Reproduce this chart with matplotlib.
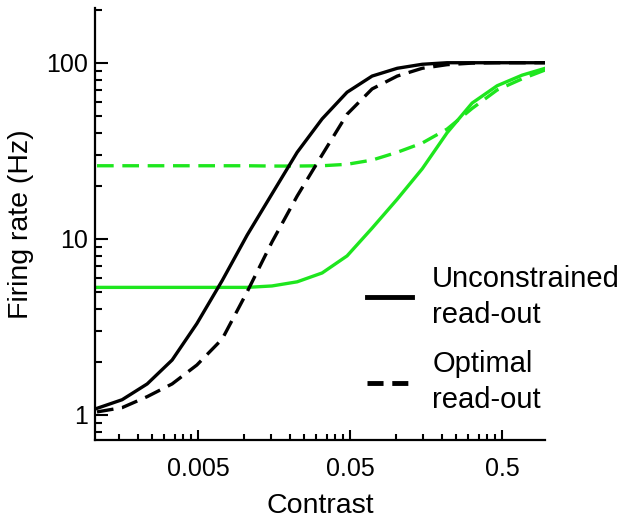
import matplotlib
matplotlib.use("Agg")
import matplotlib.pyplot as plt
from matplotlib.lines import Line2D
from matplotlib.ticker import FixedLocator, NullFormatter

plt.rcParams['font.family'] = ['Liberation Sans', 'DejaVu Sans']

# DATA ---------------------------------------------------------------------------------------------
contrast = [0.00108, 0.00158, 0.00231, 0.00337, 0.0049, 0.0072, 0.0105, 0.0153, 0.0224,
            0.0327, 0.0477, 0.0697, 0.102, 0.149, 0.217, 0.317, 0.463, 0.676, 0.96]

unconstrained_black = [1.09, 1.22, 1.5, 2.05, 3.3, 5.8, 10.5, 18, 31,
                       48, 68, 84, 93, 98, 100, 100, 100, 100, 100]
optimal_black = [1.04, 1.10, 1.27, 1.50, 1.92, 2.7, 5.0, 9.6, 17.5,
                 30, 51, 71, 84, 93, 97.5, 99.5, 100, 100, 100]
unconstrained_green = [5.3, 5.3, 5.3, 5.3, 5.3, 5.3, 5.3, 5.4, 5.7,
                       6.4, 8.0, 11.5, 16.8, 25, 40, 59, 74, 85, 93]
optimal_green = [26, 26, 26, 26, 26, 26, 26, 25.9, 25.9,
                 26, 26.5, 28, 31, 35, 42, 55, 70, 81, 91]

x_ticks = [0.005, 0.05, 0.5]
x_ticklabels = ["0.005", "0.05", "0.5"]
y_ticks = [1, 10, 100]
y_ticklabels = ["1", "10", "100"]
legend_labels = ["Unconstrained\nread-out", "Optimal\nread-out"]

# PLOT ---------------------------------------------------------------------------------------------
green = '#1ee61e'
lw = 2.4
dash = (5, 2.6)

fig = plt.figure(figsize=(6.26, 5.22), dpi=100)
ax = fig.add_axes([0.152, 0.157, 0.719, 0.828])

ax.plot(contrast, unconstrained_green, color=green, lw=lw)
ax.plot(contrast, optimal_green, color=green, lw=lw, dashes=dash)
ax.plot(contrast, optimal_black, color='black', lw=lw, dashes=dash)
ax.plot(contrast, unconstrained_black, color='black', lw=lw)

ax.set_xscale('log')
ax.set_yscale('log')
ax.set_xlim(0.00105, 0.96)
ax.set_ylim(0.72, 205)

# ticks (minor ticks between the labelled ones, 2..9 times the lower one)
ax.xaxis.set_major_locator(FixedLocator(x_ticks))
ax.set_xticklabels(x_ticklabels)
minor_x = [t * k for t in [0.0005] + x_ticks for k in range(2, 10)]
ax.xaxis.set_minor_locator(FixedLocator(minor_x))
ax.xaxis.set_minor_formatter(NullFormatter())

ax.yaxis.set_major_locator(FixedLocator(y_ticks))
ax.set_yticklabels(y_ticklabels)
minor_y = [t * k for t in [0.1] + y_ticks for k in range(2, 10)]
ax.yaxis.set_minor_locator(FixedLocator(minor_y))
ax.yaxis.set_minor_formatter(NullFormatter())

ax.tick_params(axis='x', which='major', direction='in', length=7, width=1.5, labelsize=18, pad=12)
ax.tick_params(axis='x', which='minor', direction='in', length=4, width=1.5)
ax.tick_params(axis='y', which='major', direction='in', length=9, width=1.5, labelsize=18, pad=5)
ax.tick_params(axis='y', which='minor', direction='in', length=5, width=1.5)

for side in ['top', 'right']:
    ax.spines[side].set_visible(False)
for side in ['left', 'bottom']:
    ax.spines[side].set_linewidth(1.6)

ax.set_xlabel('Contrast', fontsize=20.5, labelpad=9)
ax.set_ylabel('Firing rate (Hz)', fontsize=20.5, labelpad=9)

# legend
handles = [Line2D([], [], color='black', lw=3.5),
           Line2D([], [], color='black', lw=3.5, dashes=(3.3, 1.8))]
leg = ax.legend(handles, legend_labels, loc='upper left',
                bbox_to_anchor=(0.567, 0.515), bbox_transform=fig.transFigure,
                borderaxespad=0, frameon=False, fontsize=21, handlelength=1.55,
                handletextpad=0.7, labelspacing=0.75)
for t in leg.get_texts():
    t.set_linespacing(1.35)

fig.savefig('out.png', dpi=100)
